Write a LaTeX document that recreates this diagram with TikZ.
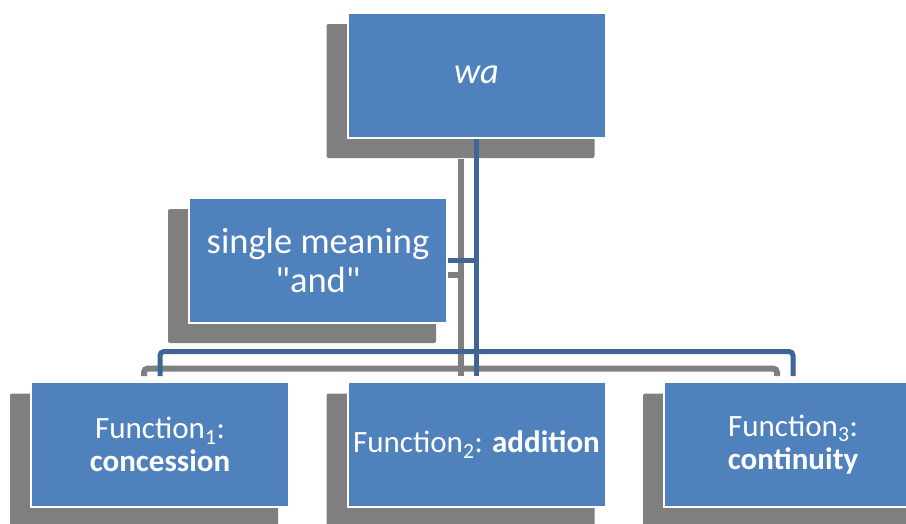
\documentclass[tikz,border=0pt]{standalone}
\usepackage{fontspec}
\setmainfont{Carlito}
\usetikzlibrary{calc,backgrounds}
\definecolor{boxblue}{HTML}{4F81BD}
\definecolor{linkblue}{HTML}{3E6596}
\definecolor{shade}{HTML}{7F7F7F}
\newcommand\straightquote{\XeTeXglyph\XeTeXcharglyph"22\relax}
\begin{document}
\begin{tikzpicture}[x=1pt,y=-1pt,
  box/.style={rectangle, fill=boxblue, draw=white, line width=2pt,
    minimum width=258pt, minimum height=125pt, text=white, align=center, inner sep=0pt},
  big/.style={font=\fontsize{36.5}{39}\selectfont},
  small/.style={font=\fontsize{31}{33}\selectfont},
  link/.style={draw=linkblue, line width=5pt, rounded corners=4pt},
  linkshade/.style={draw=shade, line width=6pt, rounded corners=4pt},
  boxshade/.style={fill=shade, rounded corners=2pt},
]
\useasboundingbox (0,0) rectangle (906,523);
\clip (0,0) rectangle (906,523);

\node[box, big] (w) at (476.5,75) {\textit{wa}};
\node[box, big] (s) at (318,260) {single meaning\\\straightquote and\straightquote};
\node[box, small] (f1) at (160,444.5) {Function\textsubscript{1}:\\\textbf{concession}};
\node[box, small] (f2) at (476.5,444.5) {Function\textsubscript{2}: \textbf{addition}};
\node[box, small] (f3) at (793,444.5) {Function\textsubscript{3}:\\\textbf{continuity}};
\coordinate (bus) at (476.5,351.5);

\begin{scope}[on background layer]
  % connector shadows
  \draw[linkshade] ($(w.south)+(-16,20)$) -- ($(f2.north)+(-16,-5)$);
  \draw[linkshade] ($(f1.north)+(-16,-5)$) |- ($(bus)+(-16,17)$) -| ($(f3.north)+(-16,-5)$);
  \draw[linkshade] ($(s.east)+(0,15)$) -- ($(s.east -| w.south)+(-16,15)$);
  % box shadows
  \foreach \n in {w,s,f1,f2,f3}
    \fill[boxshade] ($(\n.center)+(-150,-51)$) rectangle ($(\n.center)+(118,83)$);
  % connectors
  \draw[link] (w.south) -- ($(f2.north)+(0,-5)$);
  \draw[link] ($(f1.north)+(0,-5)$) |- (bus) -| ($(f3.north)+(0,-5)$);
  \draw[link] (s.east) -- (s.east -| w.south);
\end{scope}
\end{tikzpicture}
\end{document}
